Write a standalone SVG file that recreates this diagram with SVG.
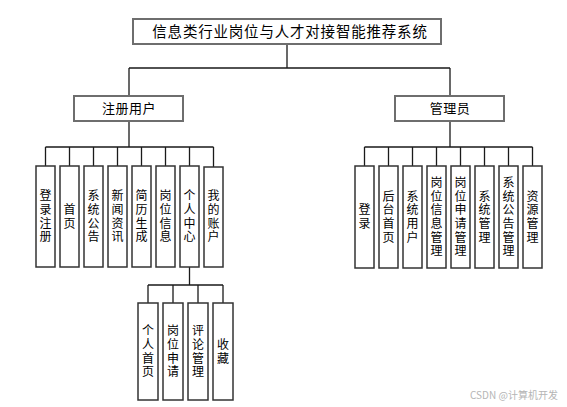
<svg xmlns="http://www.w3.org/2000/svg" width="567" height="407" viewBox="0 0 567 407">
<style>
.bg{fill:#fff}
.top{fill:#fff;stroke:#6e6e6e;stroke-width:2}
.box{fill:#fff;stroke:#333;stroke-width:1.5}
.c{fill:none;stroke:#1a1a1a;stroke-width:1.3}
text{font-family:"Noto Sans CJK SC","Microsoft YaHei",sans-serif;fill:#000}
.t{font-size:14.5px;text-anchor:middle;letter-spacing:0.8px}
.m{font-size:13px;text-anchor:middle;letter-spacing:0.5px}
.v{font-size:12px;text-anchor:middle;writing-mode:vertical-rl;letter-spacing:1.6px}
.w{font-size:10px;fill:#b5b5b5;font-family:"Noto Sans CJK SC",sans-serif}
</style>
<rect class="bg" x="0" y="0" width="567" height="407"/>
<g id="connectors">
<path class="c" d="M287 44V68M129 68H450M129 68V96M450 68V96"/>
<path class="c" d="M129 121V147M45.5 147H213.5M45.5 147V166M69.5 147V166M93.5 147V166M117.5 147V166M141.5 147V166M165.5 147V166M189.5 147V166M213.5 147V167"/>
<path class="c" d="M450 121V147M364.5 147H532.5M364.5 147V166M388.5 147V166M412.5 147V166M436.5 147V166M460.5 147V166M484.5 147V166M508.5 147V166M532.5 147V166"/>
<path class="c" d="M189.5 267V285M148 285H223M148 285V303M173 285V303M198 285V303M223 285V303"/>
</g>
<g id="root"><rect class="top" x="133" y="19" width="308" height="25"/><text class="t" x="290" y="37">信息类行业岗位与人才对接智能推荐系统</text></g>
<g id="user"><rect class="top" x="74" y="96" width="109" height="25"/><text class="m" x="129" y="113">注册用户</text></g>
<g id="admin"><rect class="top" x="395" y="96" width="109" height="25"/><text class="m" x="450" y="113">管理员</text></g>

<g id="u1"><rect class="box" x="36" y="166" width="19" height="101"/><text class="v" x="45.5" y="217">登录注册</text></g>
<g id="u2"><rect class="box" x="60" y="166" width="19" height="101"/><text class="v" x="69.5" y="217">首页</text></g>
<g id="u3"><rect class="box" x="84" y="166" width="19" height="101"/><text class="v" x="93.5" y="217">系统公告</text></g>
<g id="u4"><rect class="box" x="108" y="166" width="19" height="101"/><text class="v" x="117.5" y="217">新闻资讯</text></g>
<g id="u5"><rect class="box" x="132" y="166" width="19" height="101"/><text class="v" x="141.5" y="217">简历生成</text></g>
<g id="u6"><rect class="box" x="156" y="166" width="19" height="101"/><text class="v" x="165.5" y="217">岗位信息</text></g>
<g id="u7"><rect class="box" x="180" y="166" width="19" height="101"/><text class="v" x="189.5" y="217">个人中心</text></g>
<g id="u8"><rect class="box" x="204" y="167" width="19" height="100"/><text class="v" x="213.5" y="217">我的账户</text></g>

<g id="p1"><rect class="box" x="138" y="303" width="20" height="97"/><text class="v" x="148" y="352">个人首页</text></g>
<g id="p2"><rect class="box" x="163" y="303" width="20" height="97"/><text class="v" x="173" y="352">岗位申请</text></g>
<g id="p3"><rect class="box" x="188" y="303" width="20" height="97"/><text class="v" x="198" y="352">评论管理</text></g>
<g id="p4"><rect class="box" x="213" y="303" width="20" height="97"/><text class="v" x="223" y="352">收藏</text></g>

<g id="a1"><rect class="box" x="355" y="166" width="19" height="102"/><text class="v" x="364.5" y="217.5">登录</text></g>
<g id="a2"><rect class="box" x="379" y="166" width="19" height="102"/><text class="v" x="388.5" y="217.5">后台首页</text></g>
<g id="a3"><rect class="box" x="403" y="166" width="19" height="102"/><text class="v" x="412.5" y="217.5">系统用户</text></g>
<g id="a4"><rect class="box" x="427" y="166" width="19" height="102"/><text class="v" x="436.5" y="217.5">岗位信息管理</text></g>
<g id="a5"><rect class="box" x="451" y="166" width="19" height="102"/><text class="v" x="460.5" y="217.5">岗位申请管理</text></g>
<g id="a6"><rect class="box" x="475" y="166" width="19" height="102"/><text class="v" x="484.5" y="217.5">系统管理</text></g>
<g id="a7"><rect class="box" x="499" y="166" width="19" height="102"/><text class="v" x="508.5" y="217.5">系统公告管理</text></g>
<g id="a8"><rect class="box" x="523" y="166" width="19" height="102"/><text class="v" x="532.5" y="217.5">资源管理</text></g>

<text class="w" x="470" y="399">CSDN @计算机开发</text>
</svg>
